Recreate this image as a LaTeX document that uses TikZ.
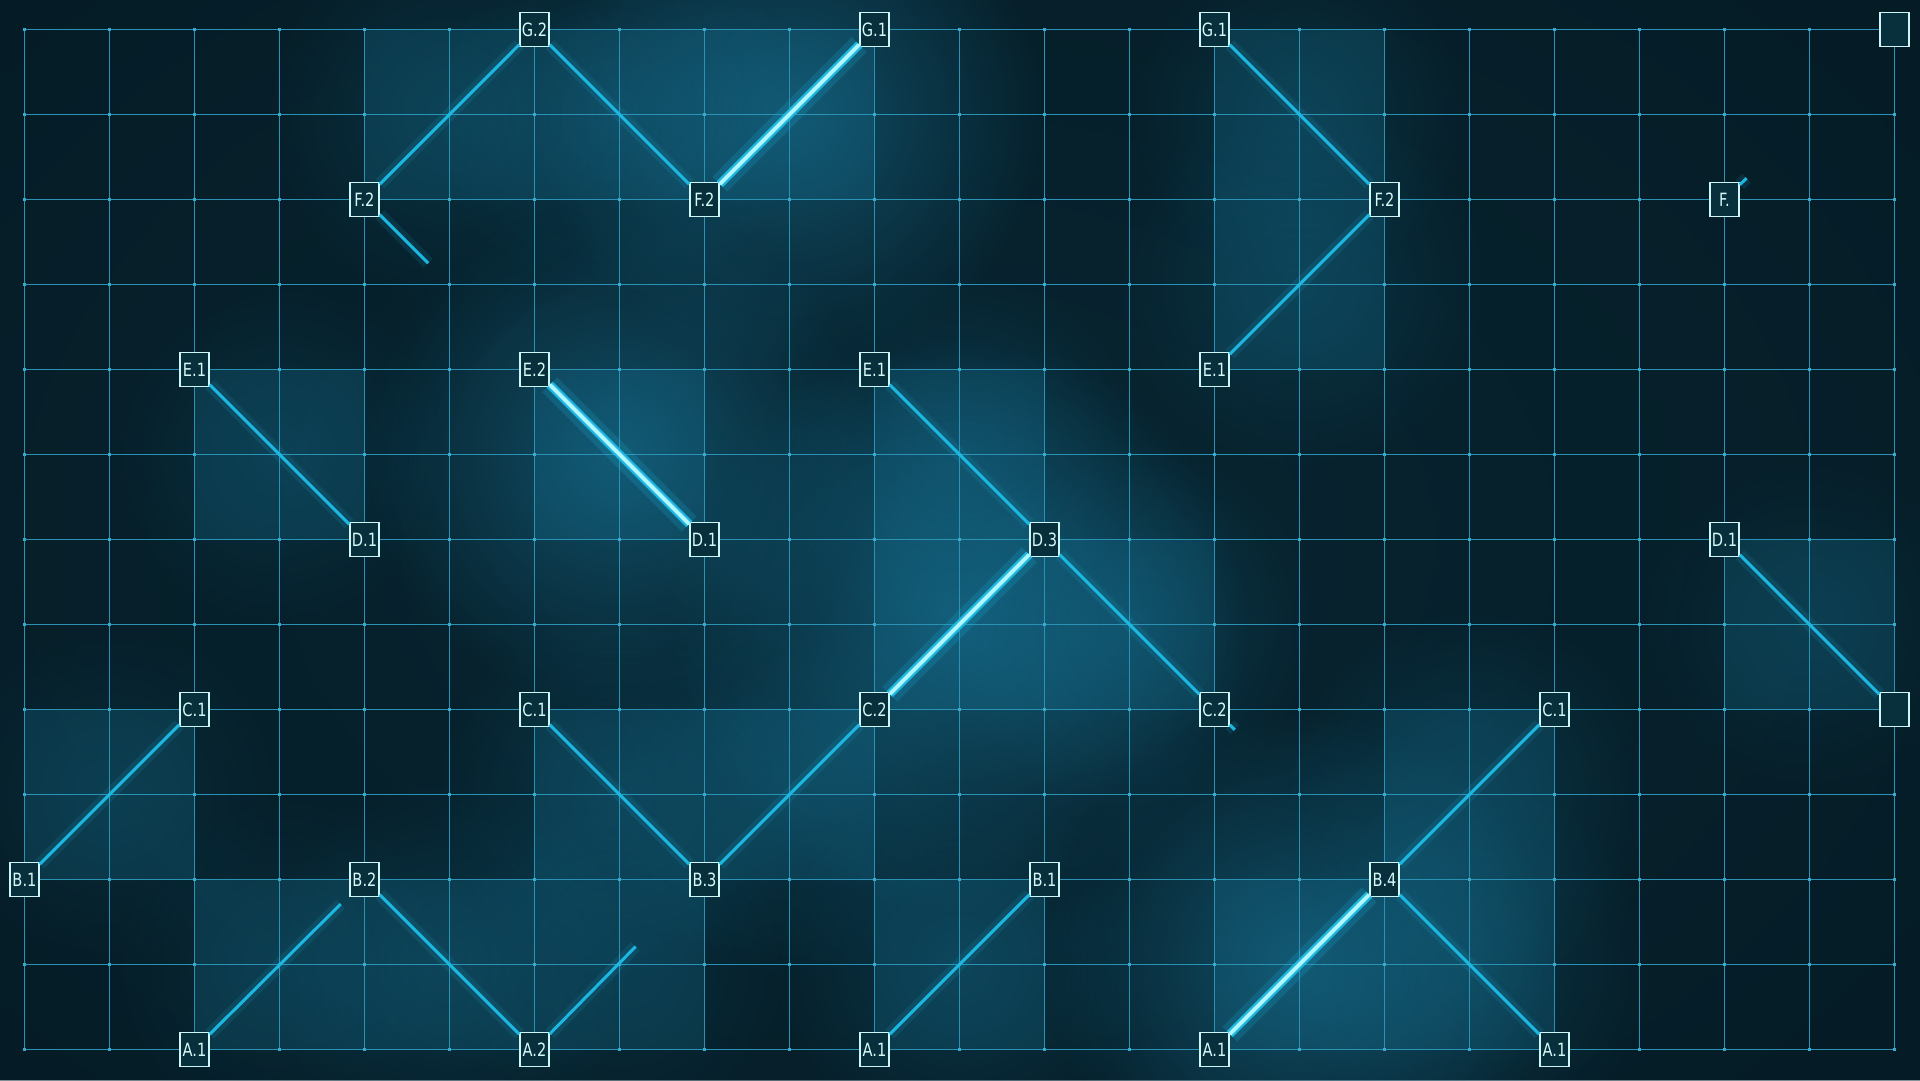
\documentclass[tikz,border=0pt]{standalone}
\usepackage{fontspec}
\newfontfamily\boxfont{DejaVu Sans}[FakeStretch=0.8]
\usetikzlibrary{fadings}
\definecolor{bgdark}{HTML}{03121A}
\definecolor{bgmid}{HTML}{082632}
\definecolor{cellc}{HTML}{0F5068}
\definecolor{glowc}{HTML}{1C86AE}
\definecolor{gridc}{HTML}{2A93B5}
\definecolor{dotc}{HTML}{3AA9CC}
\definecolor{linkc}{HTML}{1DB8E2}
\definecolor{hotc}{HTML}{B4F6FF}
\definecolor{boxfill}{HTML}{072F3C}
\definecolor{boxline}{HTML}{CDF7F7}
\definecolor{boxtext}{HTML}{D6F9F9}
\tikzfading[name=glowfade, inner color=transparent!0, outer color=transparent!100]

\begin{document}
\begin{tikzpicture}[x=0.85cm,y=0.85cm,
	box/.style={draw=boxline, fill=boxfill, line width=0.45pt, minimum width=0.29cm, minimum height=0.34cm, inner sep=0pt, text=boxtext, font=\boxfont\fontsize{5.2}{6}\selectfont},
	link/.style={draw=linkc, line width=0.85pt, preaction={draw=linkc, line width=3.5pt, draw opacity=0.12}},
	hot/.style={draw=hotc, line width=1.1pt, preaction={draw=linkc, line width=6pt, draw opacity=0.18}, preaction={draw=linkc, line width=2.4pt}},
	gridline/.style={draw=gridc, line width=0.35pt},
	cell/.style={fill=cellc, fill opacity=0.45}]

	% background
	\useasboundingbox (-0.288,-0.36) rectangle (22.3,12.346);
	\fill[bgdark] (-0.288,-0.36) rectangle (22.3,12.346);
	\fill[bgmid, path fading=glowfade] (10.5,6) ellipse (30 and 20);

	% shaded cells
	\foreach \cx/\cy in {4/10, 6/10, 8/10, 14/10, 14/8, 2/6, 6/6, 10/6, 10/4, 12/4, 20/4, 0/2, 6/2, 8/2, 16/2, 2/0, 4/0, 6/0, 10/0, 14/0, 16/0}
		\fill[cell] (\cx,\cy) rectangle ++(2,2);

	% glow
	\foreach \gx/\gy/\gr/\go in {9/11/3/0.45, 7/7/3/0.45, 11/5/3.4/0.5, 15/1/3/0.45, 5/11/2.2/0.18, 7/11/2.2/0.22, 15/11/2/0.18, 15/9/2.2/0.18, 3/7/2/0.15, 11/7/2.2/0.2, 13/5/2.2/0.22, 21/5/2/0.12, 1/3/2/0.12, 7/3/2.2/0.2, 9/3/2.2/0.2, 17/3/2.2/0.2, 5/1/2.2/0.2, 3/1/2/0.12, 7/1/2/0.12, 11/1/2.2/0.2, 17/1/2.2/0.2}
		\fill[glowc, fill opacity=\go, path fading=glowfade] (\gx,\gy) circle (\gr);

	% grid
	\foreach \i in {0,...,22}
		\draw[gridline] (\i,0) -- (\i,12);
	\foreach \j in {0,...,12}
		\draw[gridline] (0,\j) -- (22,\j);
	\foreach \i in {0,...,22}
		\foreach \j in {0,...,12}
			\fill[dotc] (\i-0.02,\j-0.02) rectangle ++(0.04,0.04);

	% boxes
	\node[box] (G6) at (6,12) {G.2};
	\node[box] (G10) at (10,12) {G.1};
	\node[box] (G14) at (14,12) {G.1};
	\node[box] (G22) at (22,12) {};
	\node[box] (F4) at (4,10) {F.2};
	\node[box] (F8) at (8,10) {F.2};
	\node[box] (F16) at (16,10) {F.2};
	\node[box] (F20) at (20,10) {F.};
	\node[box] (E2) at (2,8) {E.1};
	\node[box] (E6) at (6,8) {E.2};
	\node[box] (E10) at (10,8) {E.1};
	\node[box] (E14) at (14,8) {E.1};
	\node[box] (D4) at (4,6) {D.1};
	\node[box] (D8) at (8,6) {D.1};
	\node[box] (D12) at (12,6) {D.3};
	\node[box] (D20) at (20,6) {D.1};
	\node[box] (C2) at (2,4) {C.1};
	\node[box] (C6) at (6,4) {C.1};
	\node[box] (C10) at (10,4) {C.2};
	\node[box] (C14) at (14,4) {C.2};
	\node[box] (C18) at (18,4) {C.1};
	\node[box] (C22) at (22,4) {};
	\node[box] (B0) at (0,2) {B.1};
	\node[box] (B4) at (4,2) {B.2};
	\node[box] (B8) at (8,2) {B.3};
	\node[box] (B12) at (12,2) {B.1};
	\node[box] (B16) at (16,2) {B.4};
	\node[box] (A2) at (2,0) {A.1};
	\node[box] (A6) at (6,0) {A.2};
	\node[box] (A10) at (10,0) {A.1};
	\node[box] (A14) at (14,0) {A.1};
	\node[box] (A18) at (18,0) {A.1};

	% loose ends
	\coordinate (f4end) at (4.75,9.25);
	\coordinate (f20end) at (20.26,10.25);
	\coordinate (c14end) at (14.24,3.76);
	\coordinate (a2end) at (3.72,1.71);
	\coordinate (a6end) at (7.19,1.21);

	\draw[link] (F4) -- (G6);
	\draw[link] (G6) -- (F8);
	\draw[hot] (F8) -- (G10);
	\draw[link] (F4) -- (f4end);
	\draw[link] (G14) -- (F16);
	\draw[link] (F16) -- (E14);
	\draw[link] (F20) -- (f20end);
	\draw[link] (E2) -- (D4);
	\draw[hot] (E6) -- (D8);
	\draw[link] (E10) -- (D12);
	\draw[hot] (D12) -- (C10);
	\draw[link] (D12) -- (C14);
	\draw[link] (C14) -- (c14end);
	\draw[link] (D20) -- (C22);
	\draw[link] (C2) -- (B0);
	\draw[link] (C6) -- (B8);
	\draw[link] (B8) -- (C10);
	\draw[link] (B4) -- (A6);
	\draw[link] (A2) -- (a2end);
	\draw[link] (A6) -- (a6end);
	\draw[link] (A10) -- (B12);
	\draw[hot] (A14) -- (B16);
	\draw[link] (B16) -- (C18);
	\draw[link] (B16) -- (A18);
\end{tikzpicture}
\end{document}
